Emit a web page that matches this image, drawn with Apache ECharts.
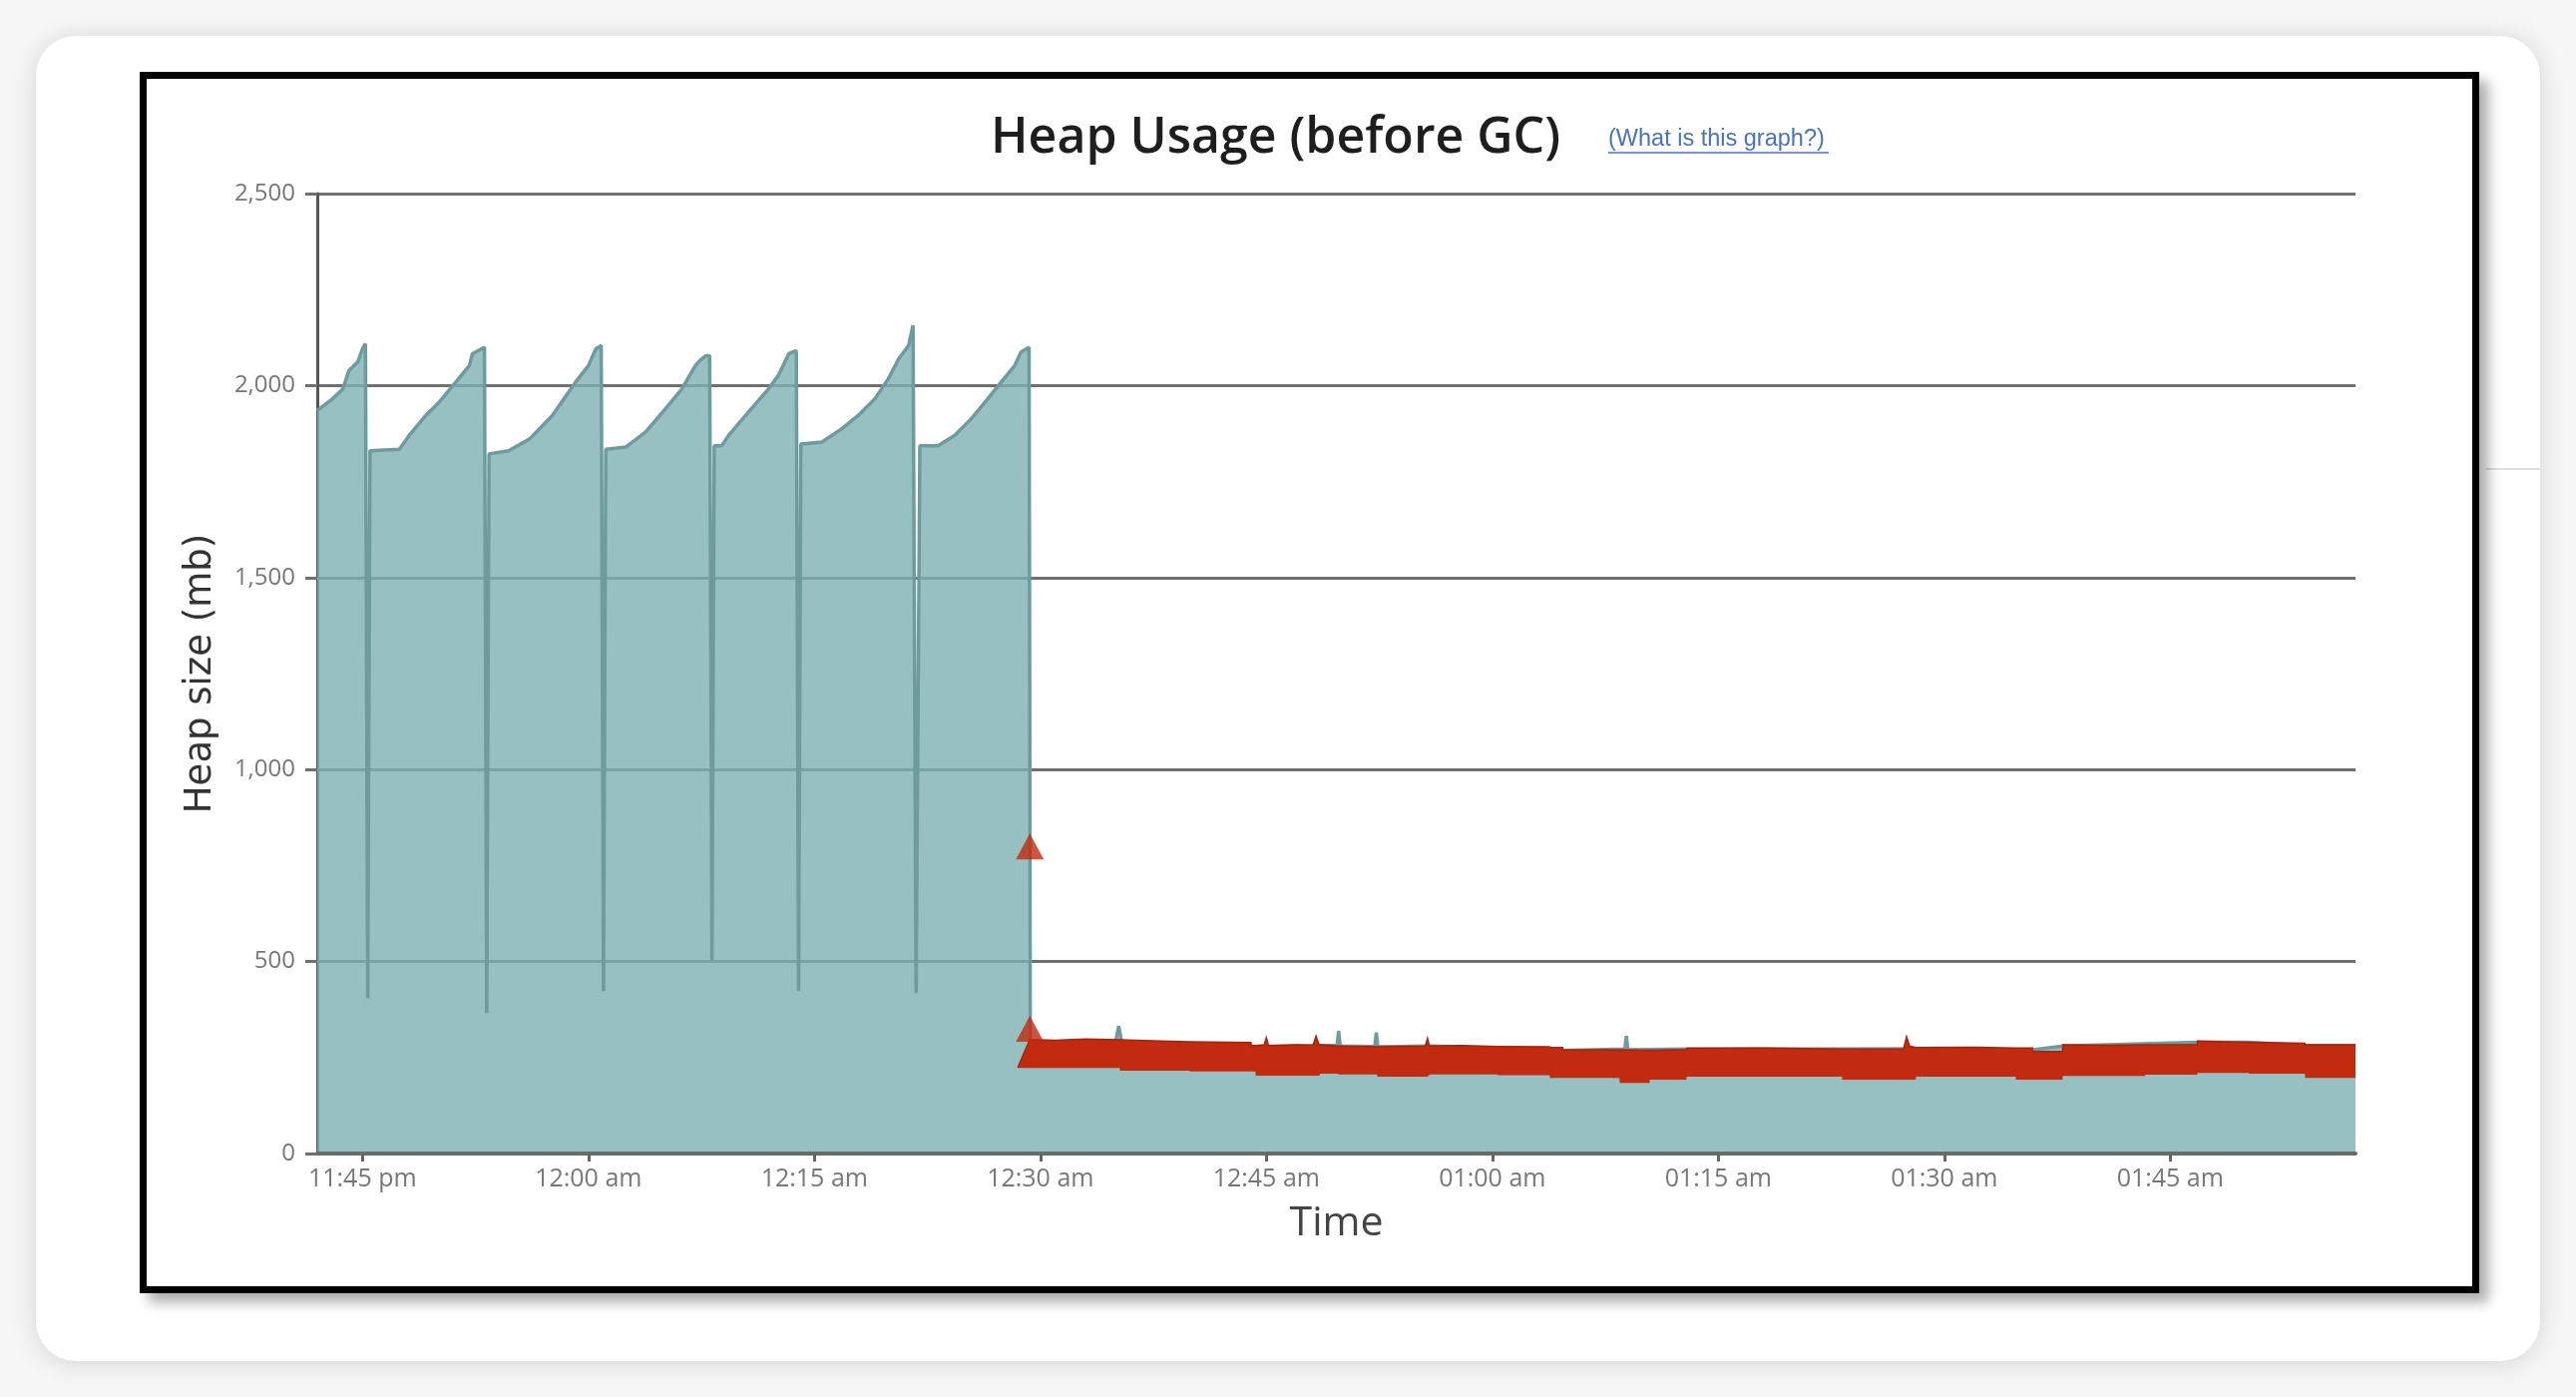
<!DOCTYPE html>
<html>
<head>
<meta charset="utf-8">
<script src="https://cdn.jsdelivr.net/npm/echarts@6.0.0/dist/echarts.min.js"></script>
<style>
  html, body { margin: 0; padding: 0; width: 2582px; height: 1400px; overflow: hidden; background: #f6f6f6; }
  .card { position: absolute; left: 36px; top: 36px; width: 2510px; height: 1328px; border-radius: 40px; background: #ffffff; box-shadow: 0 2px 26px rgba(0,0,0,0.14); }
  .frame { position: absolute; left: 140px; top: 72px; width: 2345px; height: 1224px; box-sizing: border-box; border: 7px solid #000; background: #fff; box-shadow: 9px 9px 12px rgba(0,0,0,0.33); }
  .rule { position: absolute; left: 2492px; top: 469px; width: 54px; height: 2px; background: #dedede; }
  #chart { position: absolute; left: 0; top: 0; width: 2582px; height: 1400px; }
</style>
</head>
<body>
<div class="card"></div>
<div class="rule"></div>
<div class="frame"></div>
<div id="chart"></div>
<script>
// x values are minutes after 11:00 pm
const xTickValues = [45, 60, 75, 90, 105, 120, 135, 150, 165];
const xTickLabels = ['11:45 pm', '12:00 am', '12:15 am', '12:30 am', '12:45 am', '01:00 am', '01:15 am', '01:30 am', '01:45 am'];
const yTickValues = [0, 500, 1000, 1500, 2000, 2500];

// Heap usage before GC (mb)
const heapTime = [
  42.0, 43.0, 43.7, 44.1, 44.7, 45.0, 45.2, 45.35, 45.5,
  47.45, 48.1, 49.2, 50.1, 51.2, 52.1, 52.3, 53.1, 53.25, 53.4,
  54.7, 56.1, 57.6, 59.15, 60.0, 60.5, 60.85, 61.0, 61.15,
  62.5, 63.8, 65.1, 66.2, 67.1, 67.4, 67.8, 68.05, 68.2, 68.35,
  68.85, 69.3, 70.8, 71.95, 72.6, 73.3, 73.8, 73.95, 74.1,
  75.5, 76.8, 77.9, 79.0, 79.9, 80.6, 81.25, 81.55, 81.75, 82.0,
  83.2, 84.3, 85.4, 86.5, 87.4, 88.3, 88.7, 89.25, 89.29, 89.33,
  90.0, 95.0, 95.2, 95.4, 100.0, 104.3, 109.7, 109.8, 109.9, 112.2, 112.3, 112.4,
  116.0, 124.7, 128.8, 128.9, 129.0, 133.0, 143.2, 148.1, 155.9, 157.9,
  166.8, 170.2, 174.0, 177.3
];
const heapSize = [
  1935, 1965, 1991, 2039, 2062, 2096, 2109, 405, 1830,
  1834, 1870, 1922, 1957, 2009, 2052, 2083, 2100, 366, 1822,
  1830, 1861, 1922, 2009, 2052, 2096, 2104, 423, 1834,
  1840, 1879, 1939, 1991, 2052, 2065, 2078, 2078, 503, 1843,
  1843, 1870, 1939, 1991, 2026, 2083, 2091, 423, 1848,
  1853, 1887, 1922, 1965, 2017, 2070, 2104, 2157, 418, 1843,
  1843, 1870, 1913, 1965, 2009, 2052, 2087, 2100, 1290, 292,
  292, 292, 332, 290, 285, 278, 282, 319, 280, 279, 315, 278,
  280, 268, 272, 306, 270, 272, 272, 273, 270, 280,
  290, 290, 281, 281
];

// Band of GC markers after 12:29 am (lower and upper edge, mb)
const gcTime = [
  88.5, 89.3, 91.0, 93.0, 95.26, 95.28, 98.0, 99.9, 99.92, 103.98,
  104.0, 104.28, 104.3, 104.85, 105.0, 105.15, 107.0, 108.1, 108.3, 108.5,
  108.58, 109.77, 109.79, 112.35, 112.37, 115.55, 115.7, 115.82, 118.0, 120.36,
  120.38, 123.8, 123.82, 124.67, 124.69, 128.44, 128.46, 130.43, 130.45, 132.88,
  132.9, 138.0, 143.21, 143.23, 147.3, 147.5, 147.7, 148.11, 148.13, 152.0,
  154.74, 154.76, 155.86, 155.88, 157.85, 157.87, 161.0, 163.34, 163.36, 166.79,
  166.81, 170.23, 170.25, 173.94, 173.96, 177.3
];
const gcLow = [
  223, 223, 223, 223, 223, 216, 216, 216, 214, 214,
  214, 214, 203, 203, 203, 203, 203, 203, 203, 203,
  208, 208, 206, 206, 200, 200, 200, 206, 206, 206,
  204, 204, 197, 197, 197, 197, 184, 184, 192, 192,
  200, 200, 200, 192, 192, 192, 192, 192, 200, 200,
  200, 192, 192, 192, 192, 202, 202, 202, 205, 205,
  210, 210, 208, 208, 197, 197
];
const gcHigh = [
  224, 297, 295, 298, 296, 296, 293, 291, 291, 289,
  281, 281, 281, 283, 302, 281, 283, 282, 306, 283,
  283, 280, 280, 278, 278, 280, 300, 280, 281, 279,
  279, 278, 276, 276, 270, 270, 270, 269, 269, 271,
  274, 275, 272, 272, 273, 304, 280, 276, 276, 277,
  275, 275, 275, 266, 266, 283, 282, 283, 283, 284,
  293, 290, 290, 287, 283, 283
];

// Individual GC markers at 12:29 am
const markTime = [89.3, 89.3];
const markValue = [800, 325];

const heapData = heapTime.map((t, i) => [t, heapSize[i]]);
const bandData = gcTime.map((t, i) => [t, gcLow[i], gcHigh[i]]);
const markData = markTime.map((t, i) => [t, markValue[i]]);

const RED = '#c22b10';

function renderBand(params, api) {
  if (params.dataIndex !== 0) return null;
  const top = [], bottom = [];
  for (let i = 0; i < bandData.length; i++) {
    top.push(api.coord([bandData[i][0], bandData[i][2]]));
    bottom.push(api.coord([bandData[i][0], bandData[i][1]]));
  }
  const poly = top.concat(bottom.slice().reverse());
  return {
    type: 'group',
    children: [
      { type: 'polygon', shape: { points: poly }, style: { fill: RED } },
      { type: 'polyline', shape: { points: top }, style: { stroke: '#a3250d', lineWidth: 1.5, fill: null } }
    ]
  };
}

const chart = echarts.init(document.getElementById('chart'), null, { renderer: 'canvas' });
chart.setOption({
  animation: false,
  title: [
    {
      text: 'Heap Usage (before GC)',
      left: 993, top: 114, padding: 0,
      textStyle: { fontFamily: 'Open Sans', fontWeight: 600, fontSize: 50, color: '#1e1e1e' }
    },
    {
      text: '(What is this graph?)',
      left: 1612, top: 128, padding: 0,
      textStyle: { fontFamily: 'Liberation Sans', fontWeight: 'normal', fontSize: 23.5, color: '#4a72c4' }
    }
  ],
  graphic: [
    { type: 'line', shape: { x1: 1612, y1: 153, x2: 1833, y2: 153 }, style: { stroke: '#4a72c4', lineWidth: 1.5 } }
  ],
  grid: { left: 318, right: 221, top: 194, bottom: 244 },
  xAxis: {
    type: 'value', min: 42, max: 177.3, z: 5,
    name: 'Time', nameLocation: 'middle', nameGap: 50,
    nameTextStyle: { fontFamily: 'Open Sans', fontSize: 41, color: '#444' },
    axisLine: { show: true, onZero: false, lineStyle: { color: '#6a6a6a', width: 4 } },
    axisTick: { show: true, length: 8, lineStyle: { color: '#666', width: 3 }, customValues: xTickValues },
    axisLabel: {
      margin: 13, fontFamily: 'Open Sans', fontSize: 25, color: '#777',
      customValues: xTickValues,
      formatter: v => xTickLabels[xTickValues.indexOf(v)]
    },
    splitLine: { show: false }
  },
  yAxis: {
    type: 'value', min: 0, max: 2500, interval: 500,
    name: 'Heap size (mb)', nameLocation: 'middle', nameGap: 98, nameRotate: 90,
    nameTextStyle: { fontFamily: 'DejaVu Sans', fontSize: 37, color: '#333' },
    axisLine: { show: true, lineStyle: { color: '#555', width: 3 } },
    axisTick: { show: true, length: 12, lineStyle: { color: '#707070', width: 3 } },
    axisLabel: {
      margin: 22, fontFamily: 'Open Sans', fontSize: 24, color: '#777',
      formatter: v => yTickValues.includes(v) ? v.toLocaleString('en-US') : ''
    },
    splitLine: { show: true, lineStyle: { color: '#707070', width: 3 } }
  },
  series: [
    {
      name: 'Heap before GC', type: 'line', data: heapData, symbol: 'none', z: 2,
      lineStyle: { color: '#6e9c9e', width: 3.5 },
      areaStyle: { color: '#7eafb2', opacity: 0.8 }
    },
    {
      name: 'GC', type: 'custom', data: bandData, z: 3,
      encode: { x: 0, y: [1, 2] },
      renderItem: renderBand
    },
    {
      name: 'GC marker', type: 'scatter', data: markData, z: 4,
      symbol: 'triangle', symbolSize: [28, 26],
      itemStyle: { color: RED }
    }
  ]
});
</script>
</body>
</html>
